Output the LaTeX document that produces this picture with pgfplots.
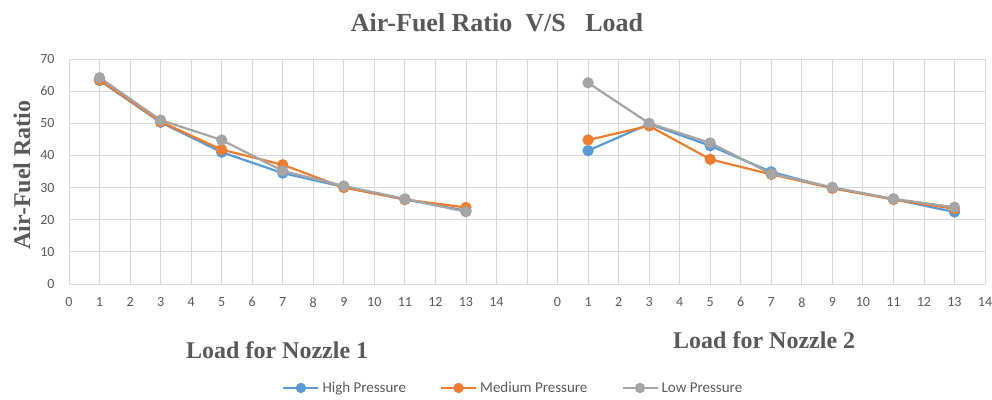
\documentclass[border=0pt]{standalone}
\usepackage{pgfplots}
\pgfplotsset{compat=1.18}
\usepackage{fontspec}
\setmainfont{Carlito}
\newfontfamily\tnr{Liberation Serif}
\definecolor{cblue}{HTML}{5B9BD5}
\definecolor{corange}{HTML}{ED7D31}
\definecolor{cgray}{HTML}{A5A5A5}
\definecolor{txt}{HTML}{595959}
\definecolor{gridc}{HTML}{D9D9D9}
\begin{document}
\begin{tikzpicture}
\path[use as bounding box] (0pt,0pt) rectangle (992pt,-399pt);
\begin{axis}[at={(69pt,-284pt)}, anchor=origin, scale only axis,
  width=916pt, height=225pt,
  xmin=0, xmax=30, ymin=0, ymax=70,
  xtick={0,...,30},
  xticklabels={0,1,2,3,4,5,6,7,8,9,10,11,12,13,14,,0,1,2,3,4,5,6,7,8,9,10,11,12,13,14},
  ytick={0,10,...,70},
  grid=major, major grid style={gridc, line width=0.8pt},
  axis line style={draw=none}, major tick length=0pt,
  tick label style={font=\fontsize{14}{14}\selectfont, text=txt},
  /pgf/number format/assume math mode=true,
  yticklabel style={xshift=-11pt},
  xticklabel style={yshift=-10pt},
  clip=false,
  legend style={at={(0.485,-0.462)}, anchor=center, draw=none, fill=none,
    legend columns=3, font=\fontsize{15}{15}\selectfont, text=txt,
    /tikz/every even column/.append style={column sep=32pt},
    /tikz/every odd column/.append style={column sep=1pt}},
  legend image code/.code={\draw[mark repeat=2,mark phase=2,mark size=4pt,#1] plot coordinates {(0pt,0pt)(17.5pt,0pt)(35pt,0pt)};},
  every axis plot/.append style={line width=2.2pt, mark=*, mark size=4.5pt},
]
% Nozzle 1 (x) and Nozzle 2 (x+16)
\addplot[cblue, mark options={fill=cblue}] coordinates {(1,63.3)(3,50.3)(5,41.0)(7,34.5)(9,30.2)(11,26.3)(13,22.8)};
\addlegendentry{High Pressure}
\addplot[corange, mark options={fill=corange}] coordinates {(1,63.5)(3,50.5)(5,41.8)(7,37.1)(9,30.0)(11,26.3)(13,23.8)};
\addlegendentry{Medium Pressure}
\addplot[cgray, mark options={fill=cgray}] coordinates {(1,64.2)(3,51.0)(5,44.8)(7,35.2)(9,30.5)(11,26.5)(13,22.5)};
\addlegendentry{Low Pressure}
\addplot[cblue, mark options={fill=cblue}, forget plot] coordinates {(17,41.5)(19,49.8)(21,43.0)(23,34.9)(25,29.8)(27,26.4)(29,22.4)};
\addplot[corange, mark options={fill=corange}, forget plot] coordinates {(17,44.8)(19,49.2)(21,38.8)(23,34.1)(25,29.8)(27,26.3)(29,23.4)};
\addplot[cgray, mark options={fill=cgray}, forget plot] coordinates {(17,62.6)(19,50.0)(21,43.9)(23,34.3)(25,30.1)(27,26.5)(29,23.9)};
\end{axis}
\node[anchor=base, text=txt, font=\tnr\bfseries\fontsize{26}{26}\selectfont] at (497pt,-31pt) {Air-Fuel Ratio\ \ V/S\ \ \ Load};
\node[anchor=base, rotate=90, text=txt, font=\tnr\bfseries\fontsize{24}{24}\selectfont, inner sep=0pt] at (30pt,-175pt) {Air-Fuel Ratio};
\node[anchor=base west, text=txt, font=\tnr\bfseries\fontsize{24}{24}\selectfont, inner sep=0pt] at (186pt,-358pt) {Load for Nozzle 1};
\node[anchor=base west, text=txt, font=\tnr\bfseries\fontsize{24}{24}\selectfont, inner sep=0pt] at (673pt,-348pt) {Load for Nozzle 2};
\end{tikzpicture}
\end{document}
